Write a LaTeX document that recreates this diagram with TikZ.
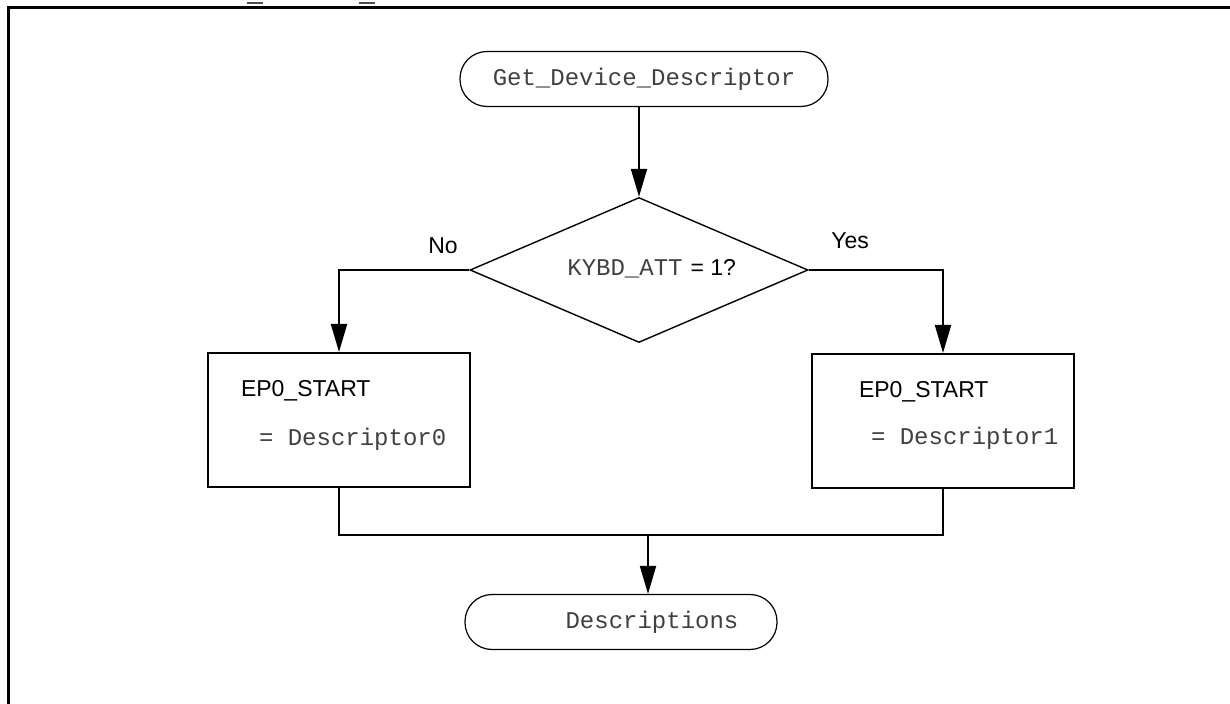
\documentclass[tikz,border=0pt]{standalone}
\usepackage{fontspec}
\setmainfont{Liberation Sans}
\setmonofont{Liberation Mono}
\usetikzlibrary{arrows.meta, shapes.geometric}

\begin{document}
\begin{tikzpicture}[x = 0.5pt, y = -0.5pt, line width = 1pt,
                        term/.style = {draw, line width = 0.6pt, rounded corners = 13.5pt, minimum height = 27.5pt, inner sep = 0pt, font = \fontsize{12}{14}\selectfont\ttfamily, text = black!75},
                        cond/.style = {diamond, draw, line width = 0.7pt, minimum width = 169pt, minimum height = 72.5pt, inner sep = 0pt},
                        proc/.style = {rectangle, draw, minimum width = 131pt, minimum height = 67pt},
                        sans/.style = {font = \fontsize{11.5}{13}\selectfont},
                        mono/.style = {font = \fontsize{12}{14}\selectfont\ttfamily, text = black!75},
                        arr/.style = {-{Triangle[length = 14pt, width = 8pt]}}]
      \useasboundingbox (0, 0) rectangle (1230, 704);
      % frame
      \draw[line width = 1.5pt] (8.5, 704) -- (8.5, 7.5) -- (1230, 7.5);
      \draw[black!70, line width = 1pt] (247, 3) -- (263, 3);
      \draw[black!70, line width = 1pt] (359, 3) -- (375, 3);

      \node [term, minimum width = 184pt] (start) at (644, 79){Get\_Device\_Descriptor};
      \node [cond] (dec) at (639, 270){};
      \node [sans, anchor = base east, inner sep = 0pt] (q2) at (737, 276){= 1?};
      \node [mono, anchor = base east, inner sep = 0pt] (q1) at ([xshift = -3pt]q2.base west){KYBD\_ATT};
      \node [sans] (no) at (443, 246){No};
      \node [sans] (yes) at (850, 241){Yes};

      \node [proc] (lbox) at (339, 420){};
      \node [sans, anchor = west, inner sep = 0pt] (lname) at (240, 391){EP0\_START};
      \node [mono, anchor = west, inner sep = 0pt] (lval) at (258, 439){= Descriptor0};
      \node [proc] (rbox) at (943, 421){};
      \node [sans, anchor = west, inner sep = 0pt] (rname) at (858, 392){EP0\_START};
      \node [mono, anchor = west, inner sep = 0pt] (rval) at (870, 438){= Descriptor1};

      \coordinate (mid) at (648, 535);
      \node [term, minimum width = 156pt] (end) at (621, 622){\hspace*{31pt}Descriptions};

      \draw[arr] (dec.north |- start.south) -- (dec.north);
      \draw[arr] (dec.west) -| (lbox.north);
      \draw[arr] (dec.east) -| (rbox.north);
      \draw (lbox.south) |- (mid) -| (rbox.south);
      \draw[arr] (mid) -- (mid |- end.north);

      \end{tikzpicture}
\end{document}
